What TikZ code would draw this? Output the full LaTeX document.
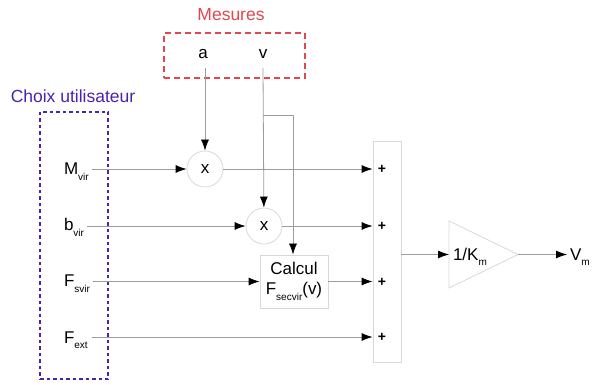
\documentclass[tikz,border=0pt]{standalone}
\usepackage{fontspec}
\setmainfont{Liberation Sans}
\usetikzlibrary{arrows.meta}
\definecolor{lgray}{HTML}{D8D8D8}
\definecolor{lline}{HTML}{9C9C9C}
\definecolor{mred}{HTML}{E2464F}
\definecolor{mpurple}{HTML}{4A22B0}
\newcommand\sbs[1]{\raisebox{-5.5pt}{\fontsize{10}{10}\selectfont #1}}
\begin{document}
\begin{tikzpicture}[x=1pt,y=-1pt,
 conn/.style={draw=lline, line width=0.8pt, -{Latex[length=11pt,width=8pt,black]}},
 wire/.style={draw=lline, line width=0.8pt},
 lab/.style={font=\fontsize{17}{20}\selectfont, inner sep=0pt, outer xsep=3pt},
 ttl/.style={font=\fontsize{17.5}{20}\selectfont, inner sep=0pt},
 mult/.style={circle, draw=lgray, line width=0.8pt, minimum size=36pt, inner sep=0pt, font=\fontsize{17}{20}\selectfont},
 blk/.style={draw=lgray, line width=0.8pt, inner sep=0pt},
 plus/.style={font=\bfseries\fontsize{14}{16}\selectfont, inner sep=0pt}
]
\useasboundingbox (0,0) rectangle (595,385);
% frames
\node[ttl, text=mred] (tmes) at (231,15) {Mesures};
\node[draw=mred, line width=2.5pt, dash pattern=on 6pt off 4pt, minimum width=141pt, minimum height=45pt, inner sep=0pt] (mes) at (234.5,55.5) {};
\node[ttl, text=mpurple] (tchx) at (73,96) {Choix utilisateur};
\node[draw=mpurple, line width=2.5pt, dash pattern=on 3.5pt off 3pt, minimum width=68pt, minimum height=267pt, inner sep=0pt] (chx) at (74,245.5) {};
% measures
\node[lab] (a) at (203,54) {a};
\node[lab] (v) at (263,54) {v};
\coordinate (as) at (205,68);
\coordinate (vs) at (263,68);
\coordinate (vb) at (263,115);
\coordinate (vbr) at (293,115);
% user inputs
\node[lab, anchor=base west] (mv) at (61,175) {M\sbs{vir}};
\node[lab, anchor=base west] (bv) at (61,231) {b\sbs{vir}};
\node[lab, anchor=base west] (fs) at (61,287) {F\sbs{svir}};
\node[lab, anchor=base west] (fe) at (61,343) {F\sbs{ext}};
\coordinate (fey) at (92,337);
% blocks
\node[mult] (c1) at (205,169) {x};
\node[mult] (c2) at (264,226) {x};
\node[blk, minimum width=68pt, minimum height=53pt, align=center, font=\fontsize{17}{20}\selectfont] (calc) at (294,281.5) {Calcul\\F\sbs{secvir}(v)};
\node[blk, minimum width=28pt, minimum height=221pt] (sum) at (387,251.5) {};
\node[plus] (p1) at (382,169) {+};
\node[plus] (p2) at (382,226) {+};
\node[plus] (p3) at (382,282) {+};
\node[plus] (p4) at (382,337) {+};
\coordinate (tin) at (449,254.5);
\coordinate (ttop) at (449,221);
\coordinate (tbot) at (449,288);
\coordinate (tap) at (518,254.5);
\draw[lgray, line width=0.8pt] (ttop) -- (tap) -- (tbot) -- cycle;
\node[lab, anchor=base west, inner sep=0pt, outer sep=0pt] (km) at (453,260.5) {1/K\sbs{m}};
\node[lab, anchor=base west] (vm) at (567,260.5) {V\sbs{m}};
% connectors
\draw[conn] (as) -- (c1);
\draw[conn] (vs) -- (c2);
\draw[conn] (vb) -- (vbr) -- (vbr |- calc.north);
\draw[conn] (mv.east |- c1) -- (c1);
\draw[conn] (bv.east |- c2) -- (c2);
\draw[conn] (fs.east |- calc) -- (calc);
\draw[conn] (c1) -- (c1 -| sum.west);
\draw[conn] (c2) -- (c2 -| sum.west);
\draw[conn] (calc) -- (calc -| sum.west);
\draw[conn] (fey) -- (fey -| sum.west);
\draw[conn] (sum.east |- tin) -- (tin);
\draw[conn] (tap) -- (vm.west |- tap);
\end{tikzpicture}
\end{document}
